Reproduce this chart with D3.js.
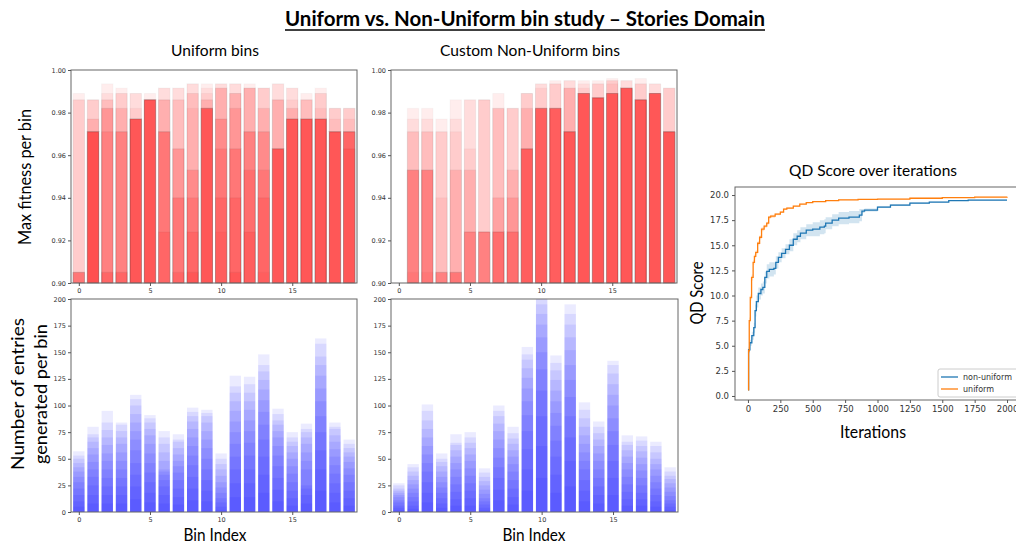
<!DOCTYPE html>
<html>
<head>
<meta charset="utf-8">
<script src="https://cdn.jsdelivr.net/npm/d3@7"></script>
<style>
  body { margin: 0; background: #fff; }
  svg { display: block; }
  .tick text { font-family: "DejaVu Sans", sans-serif; fill: #333; }
  .tick line { stroke: #555; }
  .domain { display: none; }
</style>
</head>
<body>
<svg width="1016" height="546"></svg>
<script>
// ---- data ----
var bins = d3.range(20);

// max fitness per bin, overlaid snapshots: [value, number of snapshots at that value]
var uniformFitness = [
  [[0.989,1],[0.986,2],[0.905,7]],
  [[0.986,3],[0.977,2],[0.971,10]],
  [[0.9935,1],[0.989,1],[0.986,2],[0.982,3],[0.971,2],[0.905,3]],
  [[0.9915,1],[0.989,2],[0.982,2],[0.971,4],[0.905,3]],
  [[0.989,2],[0.982,1],[0.977,11]],
  [[0.989,1],[0.986,13]],
  [[0.9915,2],[0.986,3],[0.971,5],[0.924,2]],
  [[0.9915,2],[0.986,2],[0.963,3],[0.94,3],[0.905,2]],
  [[0.9935,2],[0.989,2],[0.982,1],[0.953,3],[0.94,2],[0.924,2],[0.905,2]],
  [[0.9935,1],[0.9915,1],[0.989,1],[0.986,2],[0.982,9]],
  [[0.9935,2],[0.9915,3],[0.977,3],[0.963,2],[0.94,2],[0.924,1]],
  [[0.9935,2],[0.989,3],[0.982,2],[0.963,3],[0.94,2],[0.905,2]],
  [[0.9935,1],[0.9915,4],[0.971,4],[0.953,2],[0.924,2]],
  [[0.9915,3],[0.982,2],[0.971,3],[0.953,2],[0.94,2],[0.905,1]],
  [[0.9935,2],[0.986,3],[0.963,9]],
  [[0.9915,2],[0.986,1],[0.982,2],[0.977,9]],
  [[0.989,1],[0.986,3],[0.977,10]],
  [[0.9915,1],[0.989,2],[0.982,1],[0.977,10]],
  [[0.982,3],[0.977,1],[0.971,10]],
  [[0.982,3],[0.977,1],[0.971,8],[0.963,2]]
];
var customFitness = [
  [],
  [[0.982,1],[0.977,1],[0.971,2],[0.953,5],[0.905,1]],
  [[0.982,1],[0.977,1],[0.971,2],[0.953,5],[0.905,1]],
  [[0.977,1],[0.971,2],[0.94,1],[0.905,5]],
  [[0.986,1],[0.977,1],[0.971,1],[0.953,2],[0.905,5]],
  [[0.986,2],[0.963,1],[0.953,2],[0.924,4]],
  [[0.986,3],[0.924,6]],
  [[0.989,1],[0.982,3],[0.94,2],[0.924,5]],
  [[0.982,3],[0.953,2],[0.94,2],[0.924,4]],
  [[0.989,3],[0.982,2],[0.963,8]],
  [[0.9935,2],[0.9915,1],[0.982,10]],
  [[0.995,1],[0.9935,2],[0.982,10]],
  [[0.995,2],[0.9915,3],[0.971,9]],
  [[0.995,1],[0.9935,1],[0.9915,1],[0.989,11]],
  [[0.995,1],[0.9935,2],[0.987,11]],
  [[0.996,1],[0.995,2],[0.9935,1],[0.989,10]],
  [[0.995,2],[0.9915,12]],
  [[0.996,1],[0.9935,2],[0.986,11]],
  [[0.9935,2],[0.989,12]],
  [[0.9915,3],[0.971,11]]
];

// entries generated per bin, overlaid snapshots (one value per snapshot)
var uniformCounts = [
  [57,53,50,46,42,38,33,28,22,16,10,5],
  [80,73,70,66,60,54,47,40,33,25,16,8],
  [95,84,77,70,63,55,48,40,32,24,16,8],
  [84,82,76,70,64,56,48,40,32,24,16,8],
  [110,106,100,92,84,76,68,58,46,35,24,12],
  [91,88,84,78,72,64,55,46,37,28,18,9],
  [76,70,64,56,48,40,38,35,30,24,16,8],
  [73,68,66,60,54,48,43,37,30,22,14,7],
  [98,94,90,85,78,70,62,53,44,33,22,11],
  [96,93,90,84,76,68,60,50,40,30,20,10],
  [55,50,45,40,34,28,23,18,13,9,5,2],
  [128,118,112,104,95,85,75,64,52,40,27,14],
  [127,120,112,104,96,86,76,65,53,40,27,14],
  [148,138,132,124,115,105,94,82,68,52,35,18],
  [97,92,86,82,76,70,62,53,43,32,21,10],
  [75,70,66,62,56,50,43,36,28,20,13,6],
  [83,78,75,70,64,56,48,40,25,22,16,8],
  [163,158,146,138,128,116,104,90,75,58,40,20],
  [84,80,78,72,66,59,52,44,36,27,18,9],
  [68,64,60,56,52,47,41,35,28,20,13,6]
];
var customCounts = [
  [27,25,22,20,18,16,14,11,9,6,4,2],
  [45,42,38,34,30,26,22,18,14,10,6,3],
  [101,95,86,78,70,62,54,46,38,28,18,9],
  [55,50,47,43,38,33,28,23,18,13,8,4],
  [73,65,63,58,52,46,40,33,26,19,12,6],
  [75,70,65,60,54,48,41,34,27,20,13,6],
  [41,37,33,29,25,21,17,13,10,7,4,2],
  [100,95,90,83,76,68,60,51,42,32,21,11],
  [80,74,69,64,58,52,45,38,30,22,14,7],
  [155,148,143,135,126,116,104,91,76,59,40,20],
  [205,200,195,186,176,164,150,134,114,90,62,32],
  [147,140,133,124,114,104,93,81,67,52,35,18],
  [195,186,176,164,152,138,124,108,90,70,48,24],
  [103,96,88,80,72,64,56,48,40,30,20,10],
  [85,80,74,68,62,55,48,40,32,24,16,8],
  [142,138,130,120,110,100,88,76,63,48,32,16],
  [72,66,63,58,52,46,40,33,26,19,12,6],
  [71,67,62,57,51,45,39,32,25,18,12,6],
  [66,62,56,50,45,40,34,28,22,16,10,5],
  [42,38,34,31,27,23,19,15,11,8,5,2]
];

var fitnessTicks = [0.90, 0.92, 0.94, 0.96, 0.98, 1.00];
var countTicks = [0, 25, 50, 75, 100, 125, 150, 175, 200];
var binTicks = [0, 5, 10, 15];

// QD score over iterations
var nonUniformIter = [0,5,15,30,45,55,65,80,100,115,130,145,165,200,215,235,260,290,320,350,380,405,450,500,555,590,600,650,700,780,860,880,900,1000,1100,1250,1400,1550,1700,1850,2000];
var nonUniformMean = [0.6,4.6,5.3,6.0,6.8,8.5,9.4,10.2,10.6,10.8,11.8,12.4,12.6,12.7,13.3,13.8,14.2,14.6,15.0,15.6,15.9,16.2,16.5,16.6,16.8,16.9,17.2,17.5,17.7,17.8,18.0,18.4,18.5,18.8,19.0,19.2,19.3,19.45,19.5,19.5,19.5];
var nonUniformSpread = [0,0.3,0.3,0.4,0.5,0.6,0.6,0.6,0.6,0.6,0.6,0.7,0.7,0.6,0.6,0.5,0.5,0.5,0.6,0.6,0.6,0.6,0.6,0.7,0.7,0.7,0.6,0.6,0.6,0.6,0.6,0.2,0.15,0.1,0.1,0.08,0.05,0.05,0.05,0.05,0.05];
var uniformIter = [0,5,10,18,28,40,50,60,75,90,105,125,145,160,175,210,250,275,300,350,400,450,500,600,700,850,1000,1250,1500,1750,2000];
var uniformMean = [0.6,4.5,7.5,9.8,11.8,13.3,13.9,14.3,15.2,15.8,16.6,16.9,17.2,17.8,17.9,18.1,18.3,18.6,18.7,18.9,19.1,19.25,19.35,19.45,19.52,19.56,19.6,19.68,19.75,19.8,19.82];
var uniformSpread = [0,0.3,0.3,0.3,0.3,0.25,0.2,0.2,0.2,0.2,0.2,0.15,0.15,0.15,0.15,0.12,0.1,0.1,0.08,0.06,0.05,0.05,0.05,0.05,0.05,0.05,0.05,0.05,0.05,0.05,0.05];
var iterTicks = [0, 250, 500, 750, 1000, 1250, 1500, 1750, 2000];
var qdTicks = [0, 2.5, 5, 7.5, 10, 12.5, 15, 17.5, 20];

var svg = d3.select("svg");
var bigFont = "Lato, 'Open Sans', sans-serif";

function frame(box) {
  svg.append("rect")
    .attr("x", box.x0).attr("y", box.y0)
    .attr("width", box.x1 - box.x0).attr("height", box.y1 - box.y0)
    .attr("fill", "none").attr("stroke", "#666").attr("stroke-width", 1);
}

function axes(x, y, box, yTicks, yFmt, xTicks, fontSize) {
  var gy = svg.append("g").attr("transform", "translate(" + box.x0 + ",0)")
    .call(d3.axisLeft(y).tickValues(yTicks).tickFormat(yFmt).tickSize(3).tickPadding(2));
  var gx = svg.append("g").attr("transform", "translate(0," + box.y1 + ")")
    .call(d3.axisBottom(x).tickValues(xTicks).tickFormat(d3.format("d")).tickSize(3).tickPadding(2));
  gy.selectAll("text").style("font-size", fontSize + "px");
  gx.selectAll("text").style("font-size", fontSize + "px");
}

function fitnessPanel(data, box) {
  var x = d3.scaleLinear().domain([-0.55, 19.55]).range([box.x0, box.x1]);
  var y = d3.scaleLinear().domain([0.90, 1.00]).range([box.y1, box.y0]);
  var layers = [];
  data.forEach(function(bin, i) {
    bin.forEach(function(p) {
      for (var k = 0; k < p[1]; k++) layers.push({ i: i, v: p[0] });
    });
  });
  svg.append("g").selectAll("rect").data(layers).enter().append("rect")
    .attr("x", function(d) { return x(d.i - 0.4); })
    .attr("width", x(0.8) - x(0))
    .attr("y", function(d) { return y(d.v); })
    .attr("height", function(d) { return y(0.90) - y(d.v); })
    .attr("fill", "#ff0000").attr("fill-opacity", 0.07)
    .attr("stroke", "#777").attr("stroke-opacity", 0.045).attr("stroke-width", 1);
  frame(box);
  axes(x, y, box, fitnessTicks, d3.format(".2f"), binTicks, 6.5);
}

function countPanel(data, box) {
  var x = d3.scaleLinear().domain([-0.55, 19.55]).range([box.x0, box.x1]);
  var y = d3.scaleLinear().domain([0, 200]).range([box.y1, box.y0]).clamp(true);
  var layers = [];
  data.forEach(function(bin, i) {
    bin.forEach(function(v) { layers.push({ i: i, v: v }); });
  });
  svg.append("g").selectAll("rect").data(layers).enter().append("rect")
    .attr("x", function(d) { return x(d.i - 0.4); })
    .attr("width", x(0.8) - x(0))
    .attr("y", function(d) { return y(d.v); })
    .attr("height", function(d) { return y(0) - y(d.v); })
    .attr("fill", "#0000ff").attr("fill-opacity", 0.08);
  frame(box);
  axes(x, y, box, countTicks, d3.format("d"), binTicks, 6.5);
}

var boxTL = { x0: 71, x1: 357, y0: 70, y1: 283 };
var boxTR = { x0: 391, x1: 677, y0: 70, y1: 283 };
var boxBL = { x0: 71, x1: 357, y0: 299, y1: 512 };
var boxBR = { x0: 391, x1: 678, y0: 299, y1: 512 };

fitnessPanel(uniformFitness, boxTL);
fitnessPanel(customFitness, boxTR);
countPanel(uniformCounts, boxBL);
countPanel(customCounts, boxBR);

// ---- QD score panel ----
var boxQD = { x0: 735, x1: 1020, y0: 187, y1: 400 };
var qx = d3.scaleLinear().domain([-100, 2100]).range([boxQD.x0, boxQD.x1]);
var qy = d3.scaleLinear().domain([-0.4, 20.8]).range([boxQD.y1, boxQD.y0]);

var series = [
  { name: "non-uniform", color: "#1f77b4", iter: nonUniformIter, mean: nonUniformMean, spread: nonUniformSpread },
  { name: "uniform", color: "#ff7f0e", iter: uniformIter, mean: uniformMean, spread: uniformSpread }
];

series.forEach(function(s) {
  var pts = s.iter.map(function(t, i) { return { t: t, m: s.mean[i], s: s.spread[i] }; });
  svg.append("path").datum(pts)
    .attr("d", d3.area().curve(d3.curveStepAfter)
      .x(function(d) { return qx(d.t); })
      .y0(function(d) { return qy(d.m - d.s); })
      .y1(function(d) { return qy(d.m + d.s); }))
    .attr("fill", s.color).attr("fill-opacity", 0.2);
});
series.forEach(function(s) {
  var pts = s.iter.map(function(t, i) { return { t: t, m: s.mean[i] }; });
  svg.append("path").datum(pts)
    .attr("d", d3.line().curve(d3.curveStepAfter)
      .x(function(d) { return qx(d.t); })
      .y(function(d) { return qy(d.m); }))
    .attr("fill", "none").attr("stroke", s.color).attr("stroke-width", 1.3);
});
frame(boxQD);
(function() {
  var gy = svg.append("g").attr("transform", "translate(" + boxQD.x0 + ",0)")
    .call(d3.axisLeft(qy).tickValues(qdTicks).tickFormat(d3.format(".1f")).tickSize(3).tickPadding(3));
  var gx = svg.append("g").attr("transform", "translate(0," + boxQD.y1 + ")")
    .call(d3.axisBottom(qx).tickValues(iterTicks).tickFormat(d3.format("d")).tickSize(3).tickPadding(3));
  gy.selectAll("text").style("font-size", "8.5px");
  gx.selectAll("text").style("font-size", "8.5px");
})();

// legend
var leg = svg.append("g");
leg.append("rect").attr("x", 938).attr("y", 369).attr("width", 90).attr("height", 28).attr("rx", 2)
  .attr("fill", "#fff").attr("fill-opacity", 0.8).attr("stroke", "#ccc");
series.forEach(function(s, i) {
  var yy = 377 + i * 12;
  leg.append("line").attr("x1", 941).attr("x2", 958).attr("y1", yy).attr("y2", yy)
    .attr("stroke", s.color).attr("stroke-width", 1.3);
  leg.append("text").attr("x", 963).attr("y", yy + 3).text(s.name)
    .style("font-family", "'DejaVu Sans', sans-serif").style("font-size", "8px").attr("fill", "#333");
});

// ---- text ----
function label(txt, x, y, size, len, rotate, bold) {
  var t = svg.append("text").text(txt)
    .attr("text-anchor", "middle")
    .style("font-family", bigFont).style("font-size", size + "px")
    .style("font-weight", bold ? "bold" : "normal").attr("fill", "#000");
  if (len) t.attr("textLength", len).attr("lengthAdjust", "spacingAndGlyphs");
  if (rotate) t.attr("transform", "translate(" + x + "," + y + ") rotate(-90)");
  else t.attr("x", x).attr("y", y);
  return t;
}

label("Uniform vs. Non-Uniform bin study \u2013 Stories Domain", 525, 26, 20, 480, false, true);
svg.append("line").attr("x1", 285).attr("x2", 765).attr("y1", 30).attr("y2", 30)
  .attr("stroke", "#000").attr("stroke-width", 1.5);
label("Uniform bins", 215, 56, 16, 88);
label("Custom Non-Uniform bins", 530, 56, 16, 180);
label("Max fitness per bin", 31, 177, 18, 136, true);
label("Number of entries", 24, 394, 18, 152, true);
label("generated per bin", 47, 394, 18, 140, true);
label("Bin Index", 215, 541, 17, 63);
label("Bin Index", 534, 541, 17, 63);
label("QD Score over iterations", 873, 176, 16, 168);
label("QD Score", 703, 293, 18, 63, true);
label("Iterations", 873, 438, 17, 66);
</script>
</body>
</html>
